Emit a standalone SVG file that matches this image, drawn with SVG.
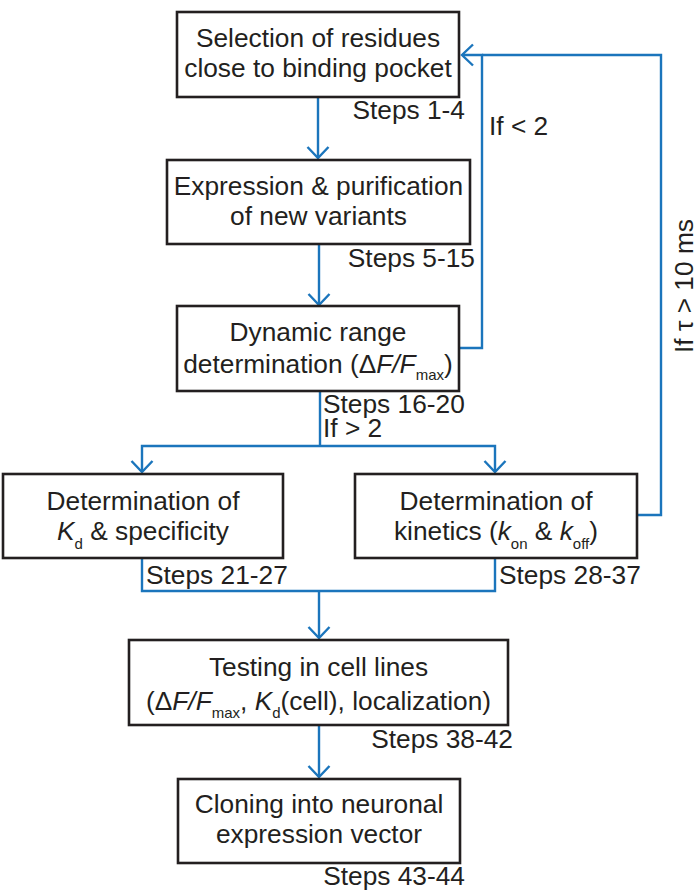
<svg xmlns="http://www.w3.org/2000/svg" width="699" height="890" viewBox="0 0 699 890">
  <style>
    .box { fill: #ffffff; stroke: #231f20; stroke-width: 2.6; }
    .t { font-family: "Liberation Sans", Arial, sans-serif; font-size: 26.3px; fill: #231f20; }
    .mid { text-anchor: middle; }
    .end { text-anchor: end; }
    .sub { font-size: 15px; }
    .it { font-style: italic; }
    .wire { fill: none; stroke: #1b75bc; stroke-width: 2.4; }
    .head { fill: none; stroke: #1b75bc; stroke-width: 2.4; stroke-linejoin: miter; }
  </style>
  <defs>
    <!-- open chevron pointing down, tip at origin -->
    <path id="chev-down" class="head" d="M-10.5,-11 L0,0 L10.5,-11"/>
    <!-- open chevron pointing left, tip at origin -->
    <path id="chev-left" class="head" d="M11,-10.5 L0,0 L11,10.5"/>
  </defs>

  <rect width="699" height="890" fill="#ffffff"/>

  <g id="connectors">
    <line class="wire" x1="318" y1="97" x2="318" y2="157"/>
    <use href="#chev-down" x="318" y="158"/>

    <line class="wire" x1="319" y1="244" x2="319" y2="304"/>
    <use href="#chev-down" x="319" y="305"/>

    <polyline class="wire" points="320,391 320,446"/>
    <polyline class="wire" points="142,471 142,446 495,446 495,471"/>
    <use href="#chev-down" x="142" y="472"/>
    <use href="#chev-down" x="495" y="472"/>

    <!-- feedback loops back to the first step -->
    <polyline class="wire" points="459,348 482,348 482,55 463,55"/>
    <polyline class="wire" points="637,515 661,515 661,55 482,55"/>
    <use href="#chev-left" x="462" y="55"/>

    <polyline class="wire" points="142,558 142,591 495,591 495,558"/>
    <line class="wire" x1="319" y1="591" x2="319" y2="637"/>
    <use href="#chev-down" x="319" y="638"/>

    <line class="wire" x1="319" y1="725" x2="319" y2="776"/>
    <use href="#chev-down" x="319" y="777"/>
  </g>

  <g id="selection">
    <rect class="box" x="177" y="12" width="282" height="85"/>
    <text class="t mid" x="318" y="47">Selection of residues</text>
    <text class="t mid" x="318" y="77">close to binding pocket</text>
    <text class="t end" x="465" y="119">Steps 1-4</text>
  </g>

  <g id="expression">
    <rect class="box" x="167" y="160" width="303" height="84"/>
    <text class="t mid" x="318.5" y="195">Expression &amp; purification</text>
    <text class="t mid" x="318.5" y="225">of new variants</text>
    <text class="t end" x="475" y="267">Steps 5-15</text>
  </g>

  <g id="dynamic-range">
    <rect class="box" x="177" y="306" width="282" height="85"/>
    <text class="t mid" x="318" y="341">Dynamic range</text>
    <text class="t mid" x="318" y="373">determination (Δ<tspan class="it">F/F</tspan><tspan class="sub" dy="7">max</tspan><tspan dy="-7">)</tspan></text>
    <text class="t" x="323" y="413">Steps 16-20</text>
    <text class="t" x="323" y="437">If &gt; 2</text>
  </g>

  <text id="label-lt2" class="t" x="489" y="135">If &lt; 2</text>
  <text id="label-tau" class="t mid" transform="translate(693,286) rotate(-90)">If τ &gt; 10 ms</text>

  <g id="kd-specificity">
    <rect class="box" x="3" y="474" width="280" height="84"/>
    <text class="t mid" x="143" y="510">Determination of</text>
    <text class="t mid" x="143" y="540"><tspan class="it">K</tspan><tspan class="sub" dy="9">d</tspan><tspan dy="-9"> &amp; specificity</tspan></text>
    <text class="t" x="146" y="584">Steps 21-27</text>
  </g>

  <g id="kinetics">
    <rect class="box" x="355" y="474" width="282" height="84"/>
    <text class="t mid" x="496" y="510">Determination of</text>
    <text class="t mid" x="496" y="540">kinetics (<tspan class="it">k</tspan><tspan class="sub" dy="9">on</tspan><tspan dy="-9"> &amp; </tspan><tspan class="it">k</tspan><tspan class="sub" dy="9">off</tspan><tspan dy="-9">)</tspan></text>
    <text class="t" x="499" y="584">Steps 28-37</text>
  </g>

  <g id="cell-lines">
    <rect class="box" x="129" y="640" width="379" height="85"/>
    <text class="t mid" x="318.5" y="676">Testing in cell lines</text>
    <text class="t mid" x="318.5" y="710">(Δ<tspan class="it">F/F</tspan><tspan class="sub" dy="8">max</tspan><tspan dy="-8">, </tspan><tspan class="it">K</tspan><tspan class="sub" dy="8">d</tspan><tspan dy="-8">(cell), localization)</tspan></text>
    <text class="t end" x="513" y="748">Steps 38-42</text>
  </g>

  <g id="cloning">
    <rect class="box" x="178" y="779" width="282" height="84"/>
    <text class="t mid" x="319" y="813">Cloning into neuronal</text>
    <text class="t mid" x="319" y="843">expression vector</text>
    <text class="t end" x="465" y="885">Steps 43-44</text>
  </g>
</svg>
